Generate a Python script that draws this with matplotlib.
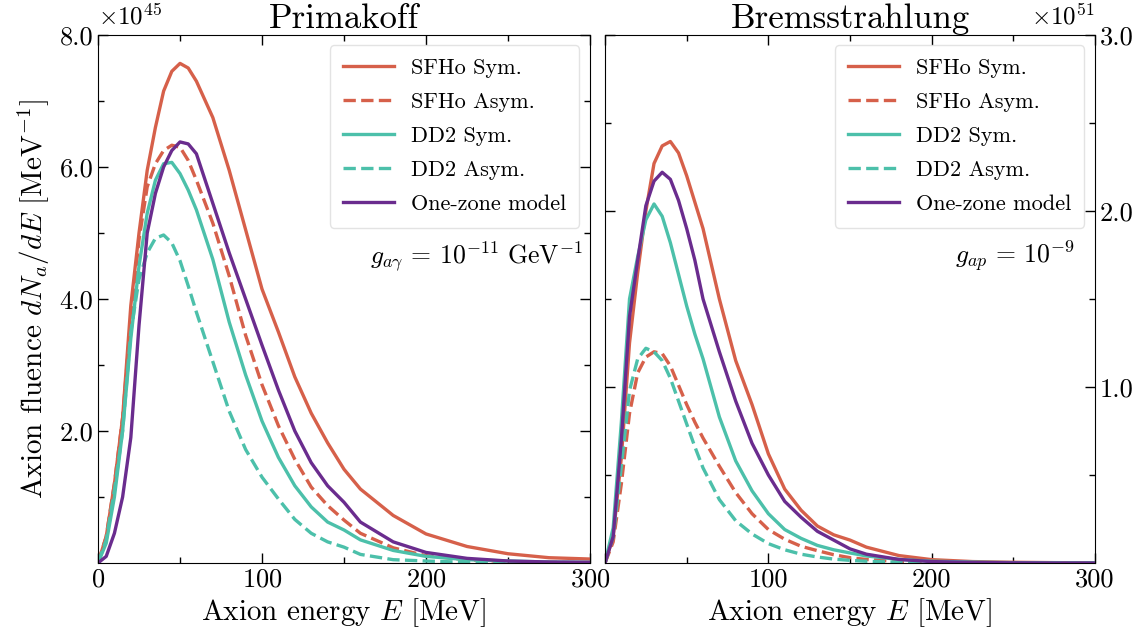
import matplotlib
matplotlib.use("Agg")
import matplotlib.pyplot as plt
from matplotlib.ticker import FixedLocator, FormatStrFormatter

plt.rcParams["font.family"] = "serif"
plt.rcParams["font.serif"] = ["cmr10", "DejaVu Serif"]
plt.rcParams["mathtext.fontset"] = "cm"
plt.rcParams["axes.unicode_minus"] = False
plt.rcParams["axes.formatter.use_mathtext"] = True

# energy grid (MeV)
E = [0, 5, 10, 15, 20, 25, 30, 35, 40, 45, 50, 55, 60, 70, 80, 90, 100,
     110, 120, 130, 140, 150, 160, 180, 200, 225, 250, 275, 300]

# Primakoff, units of 1e45 MeV^-1
prim_sfho_sym = [0, 0.4, 1.2, 2.2, 3.9, 5.0, 5.95, 6.6, 7.15, 7.45, 7.57, 7.5, 7.3,
                 6.75, 5.95, 5.05, 4.15, 3.5, 2.82, 2.27, 1.82, 1.42, 1.12, 0.72, 0.44,
                 0.25, 0.14, 0.08, 0.06]
prim_sfho_asym = [0, 0.4, 1.2, 2.2, 3.7, 4.9, 5.7, 6.05, 6.25, 6.33, 6.3, 6.1, 5.8,
                  5.15, 4.35, 3.45, 2.7, 2.08, 1.57, 1.15, 0.87, 0.65, 0.45, 0.23,
                  0.11, 0.05, 0.02, 0.01, 0.005]
prim_dd2_sym = [0, 0.3, 1.0, 2.0, 3.4, 4.5, 5.3, 5.8, 6.05, 6.07, 5.9, 5.65, 5.35,
                4.6, 3.65, 2.85, 2.15, 1.6, 1.17, 0.85, 0.62, 0.5, 0.35, 0.19, 0.1,
                0.05, 0.03, 0.015, 0.01]
prim_dd2_asym = [0, 0.35, 1.1, 2.0, 3.5, 4.3, 4.7, 4.92, 4.97, 4.85, 4.58, 4.2, 3.8,
                 3.05, 2.3, 1.72, 1.3, 0.97, 0.66, 0.45, 0.32, 0.24, 0.13, 0.05, 0.03,
                 0.01, 0.005, 0.0, 0.0]
prim_onezone = [0, 0.1, 0.45, 1.0, 1.9, 3.6, 5.0, 5.6, 6.0, 6.25, 6.38, 6.35, 6.2,
                5.45, 4.7, 4.0, 3.3, 2.62, 2.0, 1.52, 1.17, 0.92, 0.62, 0.32, 0.16,
                0.07, 0.03, 0.015, 0.01]

# Bremsstrahlung, units of 1e51 MeV^-1
brem_sfho_sym = [0, 0.15, 0.6, 1.25, 1.65, 2.0, 2.27, 2.37, 2.395, 2.33, 2.2, 2.05,
                 1.9, 1.5, 1.15, 0.9, 0.62, 0.42, 0.3, 0.21, 0.16, 0.13, 0.09, 0.042,
                 0.019, 0.008, 0.004, 0.002, 0.001]
brem_sfho_asym = [0, 0.12, 0.45, 0.85, 1.08, 1.17, 1.2, 1.19, 1.12, 1.01, 0.9, 0.8,
                  0.71, 0.55, 0.4, 0.28, 0.19, 0.135, 0.095, 0.07, 0.047, 0.03, 0.02,
                  0.008, 0.004, 0.002, 0.001, 0.0, 0.0]
brem_dd2_sym = [0, 0.2, 0.8, 1.5, 1.74, 1.95, 2.04, 1.97, 1.82, 1.64, 1.46, 1.3, 1.16,
                0.83, 0.58, 0.41, 0.28, 0.19, 0.14, 0.1, 0.075, 0.057, 0.04, 0.02,
                0.01, 0.005, 0.002, 0.0, 0.0]
brem_dd2_asym = [0, 0.15, 0.55, 0.98, 1.16, 1.22, 1.2, 1.15, 1.05, 0.92, 0.79, 0.66,
                 0.54, 0.36, 0.24, 0.165, 0.11, 0.075, 0.05, 0.034, 0.022, 0.015, 0.01,
                 0.004, 0.002, 0.001, 0.0, 0.0, 0.0]
brem_onezone = [0, 0.15, 0.7, 1.4, 1.72, 2.03, 2.17, 2.22, 2.18, 2.06, 1.9, 1.72, 1.5,
                1.2, 0.92, 0.68, 0.5, 0.35, 0.26, 0.18, 0.13, 0.08, 0.05, 0.02, 0.008,
                0.003, 0.001, 0.0, 0.0]

red = "#d6604a"
teal = "#4cc0aa"
purple = "#6a2c8e"
lw = 2.4

fig = plt.figure(figsize=(11.45, 6.32), dpi=100)
ax1 = fig.add_axes([0.0856, 0.1092, 0.4297, 0.8354])
ax2 = fig.add_axes([0.5284, 0.1092, 0.4280, 0.8354])

def draw(ax, s1, s2, s3, s4, s5):
    ax.plot(E, s1, color=red, lw=lw, ls="-", label="SFHo Sym.")
    ax.plot(E, s2, color=red, lw=lw, ls="--", label="SFHo Asym.")
    ax.plot(E, s3, color=teal, lw=lw, ls="-", label="DD2 Sym.")
    ax.plot(E, s4, color=teal, lw=lw, ls="--", label="DD2 Asym.")
    ax.plot(E, s5, color=purple, lw=lw, ls="-", label="One-zone model")
    ax.set_xlim(0, 300)
    ax.xaxis.set_major_locator(FixedLocator([0, 100, 200, 300]))
    ax.xaxis.set_minor_locator(FixedLocator([50, 150, 250]))
    ax.tick_params(which="both", direction="in", top=True, right=True, labelsize=19)
    ax.tick_params(which="major", length=7, width=1)
    ax.tick_params(which="minor", length=4, width=1)
    ax.set_xlabel(r"Axion energy $E\ [\mathrm{MeV}]$", fontsize=21, labelpad=3)
    leg = ax.legend(loc="upper right", fontsize=16, handlelength=2.3,
                    frameon=True, fancybox=True, borderpad=0.6, labelspacing=0.65,
                    handletextpad=0.75, borderaxespad=0.3, bbox_to_anchor=(0.992, 0.993))
    leg.get_frame().set_edgecolor("#dddddd")
    leg.get_frame().set_linewidth(1.0)

draw(ax1, prim_sfho_sym, prim_sfho_asym, prim_dd2_sym, prim_dd2_asym, prim_onezone)
ax1.set_ylim(0, 8)
ax1.yaxis.set_major_locator(FixedLocator([2, 4, 6, 8]))
ax1.yaxis.set_minor_locator(FixedLocator([1, 3, 5, 7]))
ax1.yaxis.set_major_formatter(FormatStrFormatter("%.1f"))
ax1.set_ylabel(r"Axion fluence $dN_a/dE\ [\mathrm{MeV}^{-1}]$", fontsize=21, labelpad=5)
ax1.set_title("Primakoff", fontsize=25, pad=5)
ax1.text(0.0, 1.01, r"$\times10^{45}$", transform=ax1.transAxes, fontsize=18,
         ha="left", va="bottom")
ax1.text(0.985, 0.58, r"$g_{a\gamma}\,=\,10^{-11}\ \mathrm{GeV}^{-1}$",
         transform=ax1.transAxes, fontsize=18.5, ha="right", va="center")

draw(ax2, brem_sfho_sym, brem_sfho_asym, brem_dd2_sym, brem_dd2_asym, brem_onezone)
ax2.set_xticks([0, 100, 200, 300], ["", "100", "200", "300"])
ax2.set_ylim(0, 3)
ax2.yaxis.set_major_locator(FixedLocator([1, 2, 3]))
ax2.yaxis.set_minor_locator(FixedLocator([0.5, 1.5, 2.5]))
ax2.yaxis.set_major_formatter(FormatStrFormatter("%.1f"))
ax2.tick_params(axis="y", which="both", labelleft=False, labelright=True)
ax2.set_title("Bremsstrahlung", fontsize=25, pad=5)
ax2.text(1.0, 1.01, r"$\times10^{51}$", transform=ax2.transAxes, fontsize=18,
         ha="right", va="bottom")
ax2.text(0.96, 0.58, r"$g_{ap}\,=\,10^{-9}$", transform=ax2.transAxes,
         fontsize=18.5, ha="right", va="center")

fig.savefig("out.png", dpi=100)
